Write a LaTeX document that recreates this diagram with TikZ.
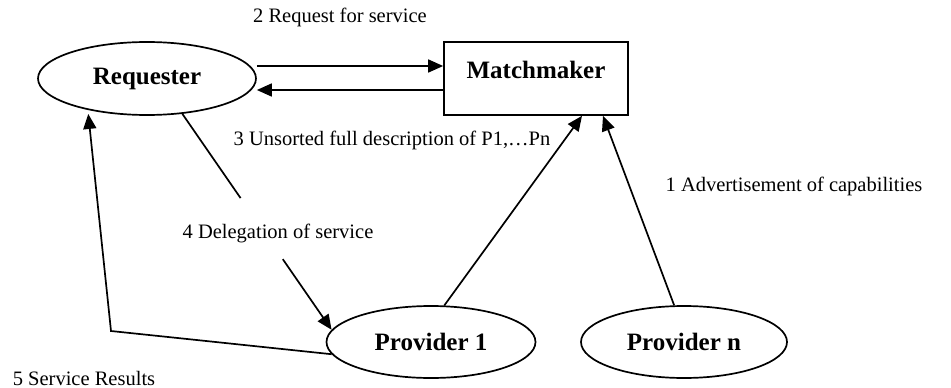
\documentclass[tikz,border=0pt]{standalone}
\usepackage{fontspec}
\setmainfont{Liberation Serif}
\usetikzlibrary{shapes.geometric,arrows.meta}
\begin{document}
\begin{tikzpicture}[x=1pt,y=-1pt, line width=1.7pt,
  oval/.style={ellipse, draw, inner sep=0pt, font=\bfseries\fontsize{25}{30}\selectfont},
  box/.style={rectangle, draw, inner sep=0pt, font=\bfseries\fontsize{25}{30}\selectfont},
  lbl/.style={font=\fontsize{20.5}{24}\selectfont, inner sep=0pt},
  arr/.style={-{Triangle[length=15pt,width=13pt]}}]
\useasboundingbox (0,0) rectangle (951,388);
\node[oval, minimum width=218pt, minimum height=73pt] (req) at (147,78.5) {Requester};
\node[box, minimum width=184pt, minimum height=73pt, text height=17pt, text depth=17pt] (mm) at (536,78.5) {Matchmaker};
\node[oval, minimum width=209pt, minimum height=72pt] (p1) at (431,342) {Provider 1};
\node[oval, minimum width=206pt, minimum height=72pt] (pn) at (684,342) {Provider n};

\draw[arr] ([yshift=12.5pt]req.east) -- ([yshift=12.5pt]mm.west);
\draw[arr] ([yshift=-11.5pt]mm.west) -- ([yshift=-11.5pt]req.east);
\draw[arr] (p1.70) -- ([xshift=46pt]mm.south);
\draw[arr] (pn.105) -- ([xshift=67pt]mm.south);

\path (req.-45) -- coordinate[pos=0.39] (g1) coordinate[pos=0.673] (g2) (p1.173);
\draw (req.-45) -- (g1);
\draw[arr] (g2) -- (p1.173);

\coordinate (c5) at (111,331);
\draw[arr, shorten >=4pt] (p1.187) -- (c5) -- (req.208);

\node[lbl] (l2) at (340,17) {2 Request for service};
\node[lbl] (l3) at (392,140) {3 Unsorted full description of P1,…Pn};
\node[lbl] (l4) at (278,233) {4 Delegation of service};
\node[lbl] (l1) at (794,186) {1 Advertisement of capabilities};
\node[lbl] (l5) at (84,378) {5 Service Results};
\end{tikzpicture}
\end{document}
